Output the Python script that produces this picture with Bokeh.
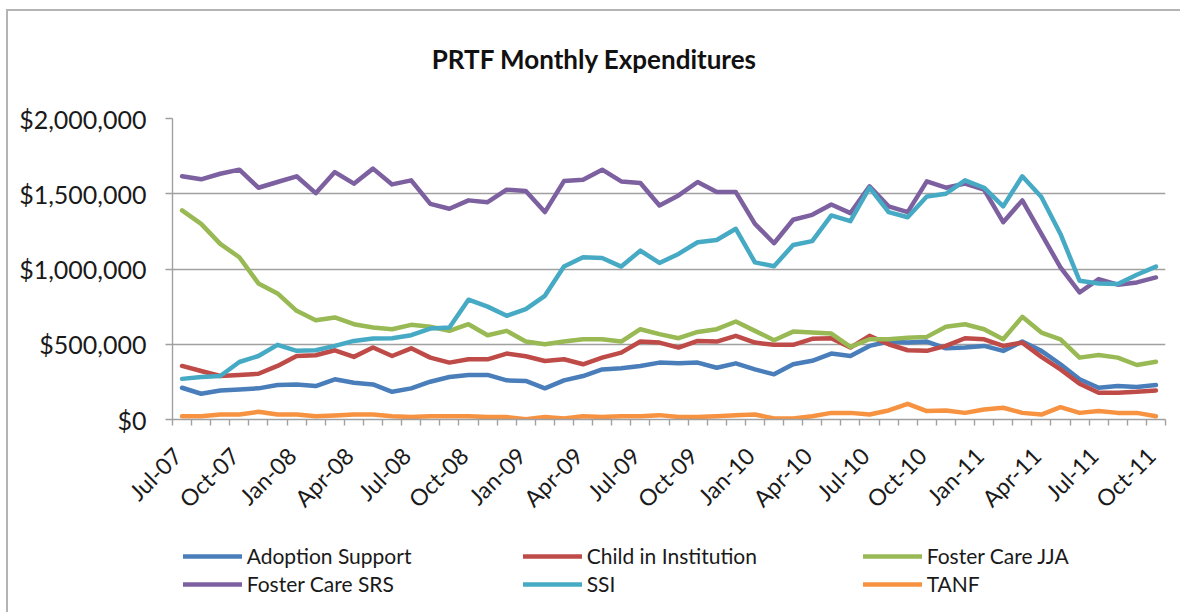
from math import pi
import numpy as np
from bokeh.plotting import figure
from bokeh.layouts import column
from bokeh.models import Range1d, FixedTicker, LinearAxis, NumeralTickFormatter, Legend, LegendItem, Label
from bokeh.embed import file_html
from bokeh.resources import INLINE

# ---------------- data ----------------
tick_labels = ["Jul-07", "Oct-07", "Jan-08", "Apr-08", "Jul-08", "Oct-08", "Jan-09", "Apr-09",
               "Jul-09", "Oct-09", "Jan-10", "Apr-10", "Jul-10", "Oct-10", "Jan-11", "Apr-11",
               "Jul-11", "Oct-11"]
n_months = 52  # Jul-07 .. Oct-11

adoption_support = [211000, 171000, 193000, 200000, 207000, 229000, 233000, 222000, 267000, 244000,
                    233000, 184000, 207000, 251000, 282000, 296000, 296000,
                    260000, 256000, 207000, 260000, 289000, 333000, 340000, 356000, 378000,
                    373000, 378000, 344000, 373000, 333000, 300000, 367000, 390000,
                    438000, 422000, 489000, 518000, 511000, 518000, 473000, 478000, 489000,
                    456000, 518000, 456000, 367000, 267000, 211000, 222000, 216000, 229000]
child_in_institution = [356000, 322000, 289000, 296000, 304000, 356000, 422000, 427000, 460000, 416000,
                        478000, 422000, 473000, 411000, 378000, 400000, 400000,
                        438000, 420000, 389000, 400000, 367000, 411000, 444000, 518000, 511000,
                        478000, 522000, 518000, 556000, 511000, 496000, 496000, 536000,
                        540000, 478000, 556000, 500000, 460000, 456000, 489000, 540000, 533000,
                        489000, 511000, 416000, 333000, 238000, 178000, 178000, 184000, 193000]
foster_care_jja = [1389000, 1300000, 1167000, 1078000, 904000, 838000, 722000, 660000, 678000, 633000,
                   611000, 600000, 629000, 616000, 589000, 633000, 560000,
                   589000, 518000, 500000, 518000, 533000, 533000, 518000, 600000, 567000,
                   540000, 582000, 600000, 651000, 589000, 527000, 584000, 578000,
                   571000, 482000, 533000, 533000, 544000, 549000, 616000, 633000, 600000,
                   533000, 682000, 578000, 533000, 411000, 429000, 411000, 362000, 384000]
foster_care_srs = [1616000, 1596000, 1633000, 1660000, 1540000, 1578000, 1616000, 1504000, 1644000, 1567000,
                   1667000, 1562000, 1589000, 1433000, 1400000, 1456000, 1444000,
                   1527000, 1518000, 1378000, 1584000, 1593000, 1660000, 1582000, 1571000, 1422000,
                   1489000, 1578000, 1511000, 1511000, 1300000, 1171000, 1327000, 1360000,
                   1429000, 1371000, 1549000, 1416000, 1378000, 1582000, 1540000, 1567000, 1527000,
                   1311000, 1456000, 1233000, 1011000, 844000, 933000, 896000, 911000, 944000]
ssi = [270000, 282000, 289000, 382000, 422000, 496000, 456000, 460000, 489000, 522000,
       538000, 540000, 560000, 604000, 611000, 796000, 750000,
       689000, 733000, 822000, 1016000, 1078000, 1073000, 1016000, 1122000, 1040000,
       1100000, 1178000, 1193000, 1267000, 1044000, 1018000, 1160000, 1185000,
       1356000, 1318000, 1540000, 1378000, 1344000, 1482000, 1500000, 1589000, 1540000,
       1416000, 1616000, 1478000, 1233000, 922000, 904000, 900000, 962000, 1016000]
tanf = [22000, 22000, 33000, 33000, 51000, 33000, 33000, 22000, 27000, 33000,
        33000, 22000, 16000, 22000, 22000, 22000, 16000,
        16000, 2000, 16000, 7000, 22000, 16000, 22000, 22000, 29000,
        16000, 16000, 22000, 29000, 33000, 7000, 7000, 22000,
        44000, 44000, 33000, 60000, 104000, 56000, 60000, 44000, 67000,
        78000, 44000, 33000, 82000, 44000, 56000, 44000, 44000, 22000]

series_names = ["Adoption Support", "Child in Institution", "Foster Care JJA",
                "Foster Care SRS", "SSI", "TANF"]
series_values = [adoption_support, child_in_institution, foster_care_jja,
                 foster_care_srs, ssi, tanf]
colors = ["#4a7ebb", "#be4b48", "#98b954", "#7d60a0", "#46aac5", "#f69240"]

# ---------------- styling ----------------
FONT = "Lato"
GRID = "#a0a0a0"
TEXT = "#1a1a1a"
W = 1172
FRAME_L, FRAME_R = 172, 1165   # page x of the (aligned) plot frames


def blank_figure(height):
    f = figure(width=W, height=height, output_backend="svg", toolbar_location=None,
               x_range=Range1d(FRAME_L, FRAME_R), y_range=Range1d(0, height),
               x_axis_type=None, y_axis_type=None,
               min_border_left=0, min_border_right=0, min_border_top=0, min_border_bottom=0)
    f.grid.visible = False
    f.outline_line_color = None
    f.background_fill_color = "white"
    f.border_fill_color = "white"
    return f


# ---------------- title strip ----------------
TH = 87
tf = blank_figure(TH)
tf.add_layout(Label(x=594, y=TH - 47, text="PRTF Monthly Expenditures", text_align="center",
                    text_baseline="middle", text_font=FONT, text_font_style="bold",
                    text_font_size="26px", text_color="#111111"))

# ---------------- main chart ----------------
MH = 432
p = figure(width=W, height=MH, output_backend="svg", toolbar_location=None,
           x_range=Range1d(-0.5, n_months - 0.5), y_range=Range1d(0, 2_000_000),
           min_border_left=164, min_border_right=15, min_border_top=20, min_border_bottom=111)
p.background_fill_color = "white"
p.border_fill_color = "white"
p.outline_line_color = None
p.xgrid.visible = False
p.ygrid.grid_line_color = GRID
p.ygrid.grid_line_width = 1.4

p.yaxis.ticker = FixedTicker(ticks=[0, 500000, 1000000, 1500000, 2000000])
p.yaxis.formatter = NumeralTickFormatter(format="$0,0")
p.yaxis.major_label_text_font = FONT
p.yaxis.major_label_text_font_size = "25px"
p.yaxis.major_label_text_color = TEXT
p.yaxis.axis_line_color = GRID
p.yaxis.axis_line_width = 1.4
p.yaxis.major_tick_line_color = GRID
p.yaxis.major_tick_line_width = 1.4
p.yaxis.major_tick_out = 7
p.yaxis.major_tick_in = 0
p.yaxis.minor_tick_line_color = None
p.yaxis.major_label_standoff = 19

# x axis: tick marks at month boundaries
xa = p.xaxis[0]
xa.ticker = FixedTicker(ticks=[i - 0.5 for i in range(n_months + 1)])
xa.axis_line_color = GRID
xa.axis_line_width = 1.4
xa.major_tick_line_color = GRID
xa.major_tick_line_width = 1.4
xa.major_tick_out = 6
xa.major_tick_in = 0
xa.minor_tick_line_color = None
xa.major_label_text_font_size = "1px"
xa.major_label_text_alpha = 0
xa.major_label_standoff = 0

# x axis: month labels (every third month)
label_ticks = [i - 0.25 for i in range(0, n_months, 3)]
xb = LinearAxis(ticker=FixedTicker(ticks=label_ticks),
                major_label_overrides={t: lab for t, lab in zip(label_ticks, tick_labels)})
xb.axis_line_color = None
xb.major_tick_line_color = None
xb.minor_tick_line_color = None
xb.major_label_orientation = pi / 4
xb.major_label_text_font = FONT
xb.major_label_text_font_size = "23px"
xb.major_label_text_color = TEXT
xb.major_label_standoff = 20
p.add_layout(xb, "below")

x = np.arange(n_months)
for vals, c in zip(series_values, colors):
    p.line(x, vals, line_width=4.5, line_color=c, line_join="round", line_cap="round")

# ---------------- legend strip ----------------
LH = 82
lf = blank_figure(LH)
items = []
for name, c in zip(series_names, colors):
    r = lf.line([FRAME_L, FRAME_L + 1], [-50, -50], line_width=4.5, line_color=c, line_cap="round")
    items.append(LegendItem(label=name, renderers=[r]))
legend = Legend(items=items, location=(10.7, 16), orientation="horizontal", ncols=3,
                glyph_width=59, glyph_height=24, label_height=24, label_standoff=5,
                spacing=3, label_width=273, padding=0, margin=0,
                border_line_color=None, background_fill_alpha=0,
                label_text_font=FONT, label_text_font_size="21px", label_text_color=TEXT)
lf.add_layout(legend, "center")

layout = column(tf, p, lf, spacing=0)
layout.margin = (9, 0, 0, 6)
layout.styles = {"border-top": "2px solid #b4b4b4", "border-left": "2px solid #b4b4b4"}

open("out.html", "w").write(file_html(layout, INLINE))
